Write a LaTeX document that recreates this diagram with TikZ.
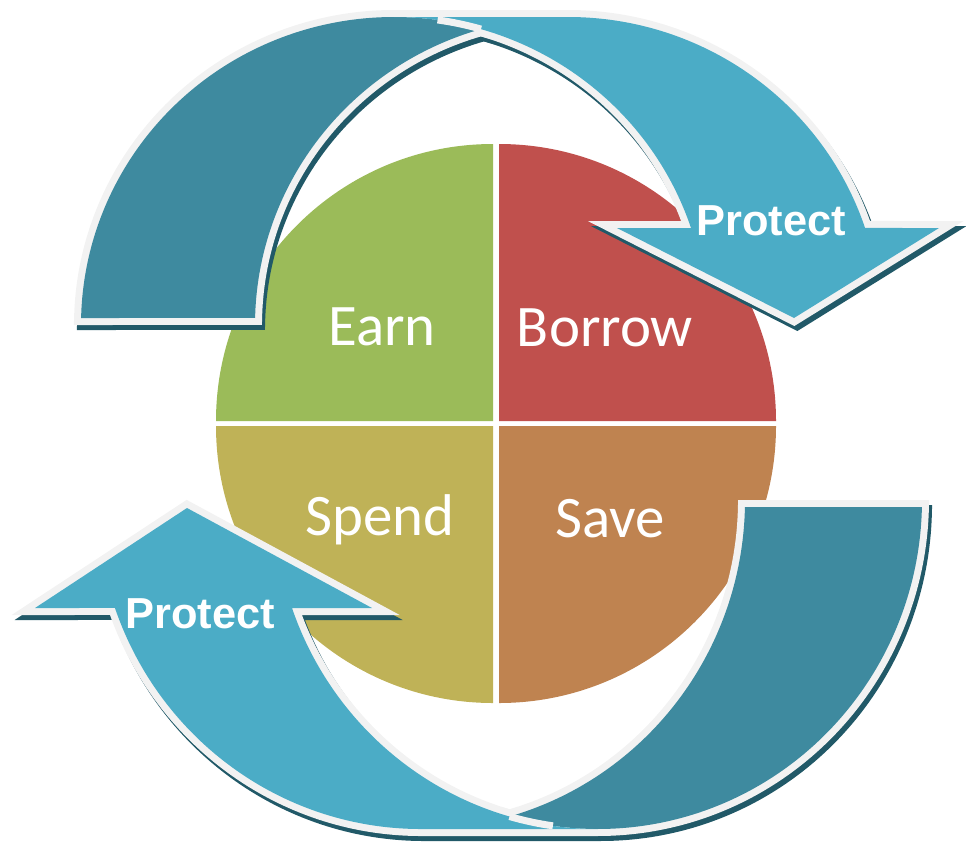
\documentclass[tikz,border=0pt]{standalone}
\usepackage{fontspec}
\newfontfamily\quadfont{Carlito}
\newfontfamily\arrowfont{Liberation Sans}

\definecolor{earngreen}{HTML}{9BBB59}
\definecolor{borrowred}{HTML}{C0504D}
\definecolor{spendolive}{HTML}{BFB257}
\definecolor{saveorange}{HTML}{BF8350}
\definecolor{frontteal}{HTML}{4BACC6}
\definecolor{backteal}{HTML}{3E8A9F}
\definecolor{shadowteal}{HTML}{215968}
\definecolor{rimgray}{HTML}{F2F2F2}

% Curved arrow outlines (pixel units, y running down)
% top arrow: two ellipses rx=313, ry=308, centres (394,325) and (568,325)
\newcommand\topback{(481,29.1) arc[start angle=253.86, end angle=181.3, x radius=313, y radius=308]
  -- (81.1,318) arc[start angle=181.3, end angle=286.14, x radius=313, y radius=308] -- cycle}
\newcommand\topfront{(691,228) arc[start angle=-18.36, end angle=-90, x radius=313, y radius=308]
  -- (568,17) arc[start angle=-90, end angle=-18.36, x radius=313, y radius=308]
  -- (939,228) -- (794,318) -- (617,228) -- cycle}
% bottom arrow: two ellipses rx=324, ry=329, centres (598,500) and (421,500)
\newcommand\botback{(509.5,816.5) arc[start angle=74.15, end angle=1.22, x radius=324, y radius=329]
  -- (921.9,507) arc[start angle=1.22, end angle=105.85, x radius=324, y radius=329] -- cycle}
\newcommand\botfront{(292,608) arc[start angle=160.84, end angle=90, x radius=324, y radius=329]
  -- (421,829) arc[start angle=90, end angle=160.84, x radius=324, y radius=329]
  -- (35,608) -- (187,508) -- (372,608) -- cycle}

\begin{document}
\begin{tikzpicture}[x=0.02cm, y=-0.02cm, line join=miter,
    rim/.style={draw=rimgray, fill=rimgray, line width=0.28cm},
    drop/.style={draw=shadowteal, fill=shadowteal, line width=0.28cm},
    seam/.style={draw=rimgray, line width=0.14cm},
    quad/.style={text=white, anchor=base, font=\quadfont\fontsize{33.5}{40}\selectfont},
    tag/.style={text=white, anchor=base, font=\arrowfont\bfseries\fontsize{24.7}{30}\selectfont}]
  \useasboundingbox (0,0) rectangle (966,842);

  % Pie quadrants
  \fill[earngreen] (493,421) -- (216,421) arc[start angle=180, end angle=270, radius=277] -- cycle;
  \fill[borrowred] (499,421) -- (499,144) arc[start angle=270, end angle=360, radius=277] -- cycle;
  \fill[spendolive] (493,426) -- (493,703) arc[start angle=90, end angle=180, radius=277] -- cycle;
  \fill[saveorange] (499,426) -- (776,426) arc[start angle=0, end angle=90, radius=277] -- cycle;
  \node[quad] (earn) at (382,345) {Earn};
  \node[quad] (borrow) at (605,346) {Borrow};
  \node[quad] (spend) at (380,535) {Spend};
  \node[quad] (save) at (610,537) {Save};

  % Top arrow: shadow, rim, back band, front band
  \begin{scope}[shift={(3,5)}]
    \path[drop] \topback;
    \path[drop] \topfront;
  \end{scope}
  \path[rim] \topback;
  \path[rim] \topfront;
  \fill[backteal] \topback;
  \fill[frontteal] \topfront;
  \draw[seam] (481,29.1) arc[start angle=286.14, end angle=278, x radius=313, y radius=308];
  \node[tag] (protecttop) at (771,235) {Protect};

  % Bottom arrow, same layers
  \begin{scope}[shift={(3,5)}]
    \path[drop] \botback;
    \path[drop] \botfront;
  \end{scope}
  \path[rim] \botback;
  \path[rim] \botfront;
  \fill[backteal] \botback;
  \fill[frontteal] \botfront;
  \draw[seam] (509.5,816.5) arc[start angle=105.85, end angle=98, x radius=324, y radius=329];
  \node[tag] (protectbot) at (200,628) {Protect};
\end{tikzpicture}
\end{document}
